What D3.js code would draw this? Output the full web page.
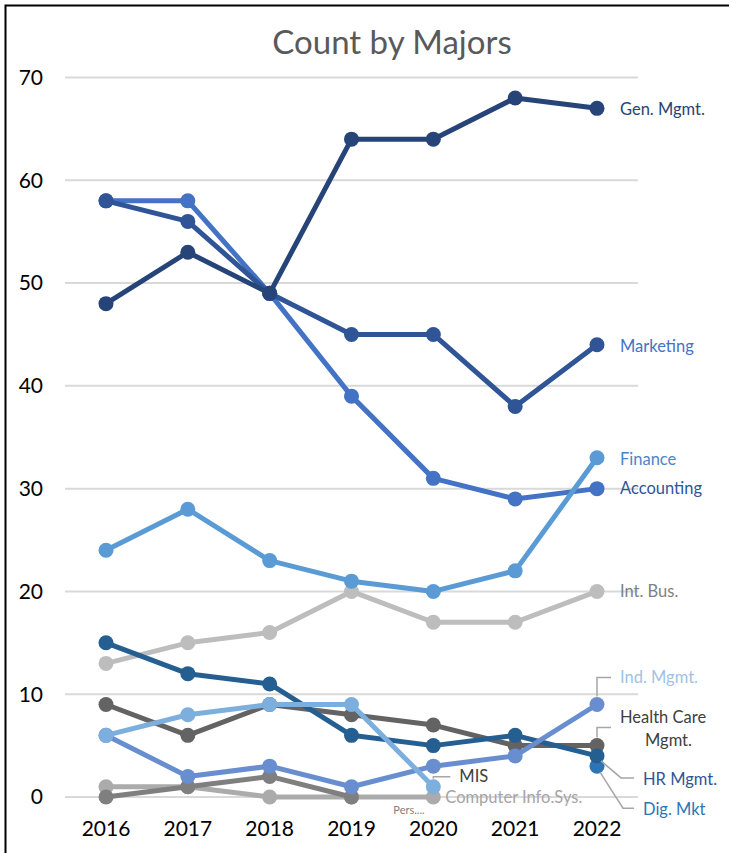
<!DOCTYPE html>
<html>
<head>
<meta charset="utf-8">
<script src="https://cdn.jsdelivr.net/npm/d3@7"></script>
<style>
  body { margin: 0; background: #fff; }
  text { font-family: Lato, "Open Sans", sans-serif; }
</style>
</head>
<body>
<div id="chart"></div>
<script>
// years on the x axis
const years = [2016, 2017, 2018, 2019, 2020, 2021, 2022];
const yTicks = [0, 10, 20, 30, 40, 50, 60, 70];

// counts per major (null = no value that year)
const genMgmt = [48, 53, 49, 64, 64, 68, 67];
const marketing = [58, 56, 49, 45, 45, 38, 44];
const accounting = [58, 58, 49, 39, 31, 29, 30];
const finance = [24, 28, 23, 21, 20, 22, 33];
const intBus = [13, 15, 16, 20, 17, 17, 20];
const hrMgmt = [15, 12, 11, 6, 5, 6, 4];
const healthCare = [9, 6, 9, 8, 7, 5, 5];
const mis = [6, 8, 9, 9, 1, null, null];
const indMgmt = [6, 2, 3, 1, 3, 4, 9];
const digMkt = [null, null, null, null, null, null, 3];
const compInfo = [1, 1, 0, 0, 0, null, null];
const pers = [0, 1, 2, 0, null, null, null];

// draw order: first ones go underneath
const series = [
  { name: 'Computer Info.Sys.', values: compInfo, color: '#ABABAB', label: '#A5A5A5' },
  { name: 'Pers....', values: pers, color: '#7F7F7F', label: '#7F7F7F' },
  { name: 'Int. Bus.', values: intBus, color: '#BDBDBD', label: '#7F7F7F' },
  { name: 'Dig. Mkt', values: digMkt, color: '#2E75B6', label: '#2E75B6' },
  { name: 'Health Care Mgmt.', values: healthCare, color: '#636363', label: '#404040' },
  { name: 'HR Mgmt.', values: hrMgmt, color: '#255E91', label: '#2F5597' },
  { name: 'Ind. Mgmt.', values: indMgmt, color: '#698ED0', label: '#9DC3E6' },
  { name: 'MIS', values: mis, color: '#7CAFDD', label: '#404040' },
  { name: 'Accounting', values: accounting, color: '#4472C4', label: '#2F5597' },
  { name: 'Finance', values: finance, color: '#5B9BD5', label: '#4A86C8' },
  { name: 'Marketing', values: marketing, color: '#2F5597', label: '#4472C4' },
  { name: 'Gen. Mgmt.', values: genMgmt, color: '#264478', label: '#264478' },
];

const width = 732;
const height = 853;

const svg = d3.select('#chart')
  .append('svg')
  .attr('width', width)
  .attr('height', height);

// frame (only top and left edges are inside the window)
svg.append('path')
  .attr('d', `M5.5,${height} V5.5 H729`)
  .attr('fill', 'none')
  .attr('stroke', '#000')
  .attr('stroke-width', 2);

const x = d3.scalePoint()
  .domain(years)
  .range([106, 597]);

const y = d3.scaleLinear()
  .domain([0, 70])
  .range([797, 77.5]);

// gridlines
svg.append('g')
  .selectAll('line')
  .data(yTicks)
  .join('line')
  .attr('x1', 65)
  .attr('x2', 638)
  .attr('y1', d => y(d))
  .attr('y2', d => y(d))
  .attr('stroke', '#D9D9D9')
  .attr('stroke-width', 2);

// y axis labels
svg.append('g')
  .selectAll('text')
  .data(yTicks)
  .join('text')
  .attr('x', 43)
  .attr('y', d => y(d))
  .attr('dy', '0.35em')
  .attr('text-anchor', 'end')
  .attr('font-size', 21)
  .attr('fill', '#000')
  .text(d => d);

// x axis labels
svg.append('g')
  .selectAll('text')
  .data(years)
  .join('text')
  .attr('x', d => x(d))
  .attr('y', 836)
  .attr('text-anchor', 'middle')
  .attr('font-size', 21)
  .attr('fill', '#000')
  .text(d => d);

// title
svg.append('text')
  .attr('x', 392)
  .attr('y', 54)
  .attr('text-anchor', 'middle')
  .attr('font-size', 33)
  .attr('fill', '#595959')
  .text('Count by Majors');

const line = d3.line()
  .defined(d => d != null)
  .x((d, i) => x(years[i]))
  .y(d => y(d));

// lines and markers
const groups = svg.append('g')
  .selectAll('g')
  .data(series)
  .join('g');

groups.append('path')
  .attr('d', d => line(d.values))
  .attr('fill', 'none')
  .attr('stroke', d => d.color)
  .attr('stroke-width', 5)
  .attr('stroke-linejoin', 'round');

groups.selectAll('circle')
  .data(d => d.values.map((v, i) => ({ v, year: years[i], color: d.color })).filter(p => p.v != null))
  .join('circle')
  .attr('cx', p => x(p.year))
  .attr('cy', p => y(p.v))
  .attr('r', 7.5)
  .attr('fill', p => p.color);

// data labels: where each label sits relative to its last point
const lastPoint = s => {
  let i = s.values.length - 1;
  while (s.values[i] == null) i -= 1;
  return { year: years[i], v: s.values[i] };
};

const labelLayout = {
  'Gen. Mgmt.': { dx: 23, dy: 1 },
  'Marketing': { dx: 23, dy: 1 },
  'Finance': { dx: 23, dy: 1 },
  'Accounting': { dx: 23, dy: 0 },
  'Int. Bus.': { dx: 23, dy: 0 },
  'Ind. Mgmt.': { dx: 23, dy: -27, leader: [[0, -8], [0, -27], [14, -27]] },
  'Health Care Mgmt.': { dx: 23, dy: -28, lines: ['Health Care', 'Mgmt.'], leader: [[0, -8], [0, -18], [14, -18]] },
  'HR Mgmt.': { dx: 46, dy: 23, leader: [[4, 5], [24, 22], [37, 22]] },
  'Dig. Mkt': { dx: 46, dy: 43, leader: [[3, 6], [26, 42], [37, 42]] },
  'MIS': { dx: 26, dy: -10, leader: [[0, -8], [0, -10], [17, -10]] },
  'Computer Info.Sys.': { dx: 12, dy: 0 },
  'Pers....': { dx: -40, dy: 13, size: 11 },
};

const labels = svg.append('g');
series.forEach(s => {
  const p = lastPoint(s);
  // Pers. label is shown at 2020, next to the CIS label
  const px = s.name === 'Pers....' ? x(2020) : x(p.year);
  const py = y(p.v);
  const lay = labelLayout[s.name];
  if (lay.leader) {
    labels.append('path')
      .attr('d', d3.line()(lay.leader.map(([a, b]) => [px + a, py + b])))
      .attr('fill', 'none')
      .attr('stroke', '#A6A6A6')
      .attr('stroke-width', 1.5);
  }
  const t = labels.append('text')
    .attr('x', px + lay.dx)
    .attr('y', py + lay.dy)
    .attr('dy', '0.35em')
    .attr('font-size', lay.size || 16.5)
    .attr('fill', s.label);
  if (lay.lines) {
    t.selectAll('tspan')
      .data(lay.lines)
      .join('tspan')
      .attr('x', (d, i) => px + lay.dx + (i ? 25 : 0))
      .attr('dy', (d, i) => (i ? '1.35em' : '0.35em'))
      .text(d => d);
  } else {
    t.text(s.name);
  }
});
</script>
</body>
</html>
